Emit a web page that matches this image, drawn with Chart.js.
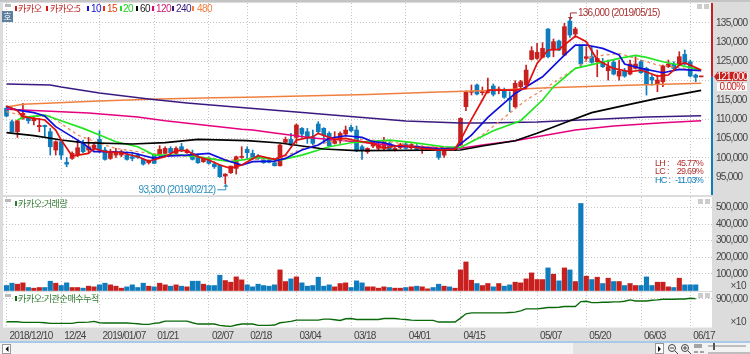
<!DOCTYPE html>
<html>
<head>
<meta charset="utf-8">
<script src="https://cdn.jsdelivr.net/npm/chart.js@4"></script>
<style>
html, body { margin: 0; padding: 0; }
#wrap { position: relative; width: 750px; height: 354px; overflow: hidden; background: #dcdcdc; }
canvas { position: absolute; left: 0; top: 0; }
.t { position: absolute; white-space: nowrap; font: 9px "Noto Sans CJK KR", sans-serif; line-height: 11px; letter-spacing: -0.4px; }
.n { font: 10px "Liberation Sans", sans-serif; line-height: 11px; letter-spacing: -0.5px; }
.m { position: absolute; width: 2px; height: 5px; }
.b { position: absolute; background: #b9b9b9; }
</style>
</head>
<body>
<div id="wrap">
  <canvas id="priceChart" width="750" height="354"></canvas>
  <canvas id="volumeChart" width="750" height="354"></canvas>
  <canvas id="flowChart" width="750" height="354"></canvas>

  <!-- top strip, scroll row -->
  <div class="b" style="left:0;top:0;width:750px;height:2px;background:#c4c4c4"></div>
  <div class="b" style="left:0;top:341px;width:750px;height:2px;background:#a9c9e8"></div>
  <div class="b" style="left:0;top:343px;width:750px;height:11px;background:#f3f3f3"></div>
  <div class="b" style="left:573px;top:343px;width:82px;height:11px;background:#e2e2e2"></div>
  <div class="b" style="left:2px;top:344px;width:9px;height:10px;background:#fff;border:1px solid #999;box-sizing:border-box"></div>
  <div class="b" style="left:655px;top:343px;width:9px;height:11px;background:#fff;border:1px solid #999;box-sizing:border-box"></div>
  <svg style="position:absolute;left:0;top:343px" width="750" height="11">
    <path d="M8.5 3 L5.5 6 L8.5 9 Z M658 3 L661 6 L658 9 Z" fill="#111"/>
    <circle cx="672" cy="5" r="3.5" fill="none" stroke="#444"/><path d="M675 8 L678 11 M670 5 H674" stroke="#444"/>
    <circle cx="685" cy="5" r="3.5" fill="none" stroke="#444"/><path d="M688 8 L691 11 M683 5 H687 M685 3 V7" stroke="#444"/>
    <path d="M695 1 V5 M697 1 V5 M699 1 V5 M701 1 V5 M694 9 H698 M700 9 H704" stroke="#555"/>
    <path d="M708 3 H746 M708 10 H750" stroke="#888"/><rect x="713" y="0" width="2" height="7" fill="#555"/>
  </svg>

  <!-- panel grabbers -->
  <div class="b" style="left:5px;top:4px;width:6px;height:3px"></div>
  <div class="b" style="left:5px;top:199px;width:6px;height:3px"></div>
  <div class="b" style="left:5px;top:294px;width:6px;height:3px"></div>
  <div class="b" style="left:697px;top:4px;width:5px;height:5px;background:#ccc"></div>
  <div class="b" style="left:704px;top:4px;width:5px;height:5px;background:#ccc"></div>
  <div class="b" style="left:698px;top:199px;width:5px;height:5px;background:#ccc"></div>
  <div class="b" style="left:705px;top:199px;width:5px;height:5px;background:#ccc"></div>
  <div class="b" style="left:698px;top:293px;width:5px;height:5px;background:#ccc"></div>
  <div class="b" style="left:705px;top:293px;width:5px;height:5px;background:#ccc"></div>
  <div class="t" style="left:2px;top:11px;width:11px;height:11px;background:#5f7f9f;color:#fff;text-align:center;letter-spacing:0">호</div>

  <!-- legend -->
  <div class="m" style="left:15px;top:6px;background:#c02020"></div><div class="t" style="left:18px;top:3px;color:#c02020">카카오</div>
  <div class="m" style="left:46px;top:6px;background:#e01010"></div><div class="t" style="left:50px;top:3px;color:#c02020">카카오:5</div>
  <div class="m" style="left:87px;top:6px;background:#1010dd"></div><div class="t n" style="left:91px;top:3px;color:#1010dd">10</div>
  <div class="m" style="left:103px;top:6px;background:#f03010"></div><div class="t n" style="left:107px;top:3px;color:#e04010">15</div>
  <div class="m" style="left:120px;top:6px;background:#20e020"></div><div class="t n" style="left:123px;top:3px;color:#20d020">20</div>
  <div class="m" style="left:136px;top:6px;background:#000"></div><div class="t n" style="left:140px;top:3px;color:#222">60</div>
  <div class="m" style="left:152px;top:6px;background:#e6007e"></div><div class="t n" style="left:156px;top:3px;color:#d0206e">120</div>
  <div class="m" style="left:172px;top:6px;background:#3a1a80"></div><div class="t n" style="left:176px;top:3px;color:#3a1a80">240</div>
  <div class="m" style="left:192px;top:6px;background:#f08040"></div><div class="t n" style="left:197px;top:3px;color:#f08040">480</div>

  <div class="m" style="left:15px;top:201px;background:#2f7a2f"></div><div class="t" style="left:18px;top:198px;color:#2f7a2f">카카오:거래량</div>
  <div class="m" style="left:15px;top:296px;background:#0a6a0a"></div><div class="t" style="left:18px;top:293px;color:#2f7a2f">카카오:기관순매수누적</div>
  <div class="t n" style="right:4px;top:280px;color:#444">×10</div>
  <div class="t n" style="right:4px;top:316px;color:#444">×10</div>
</div>

<script>
// Candles, one row per 10 sessions
const opens = [
    112840,109380,106790,110250,110250,109640,108090,108430,106790,102040,
    104200,98840,99880,100740,103770,102040,102470,104800,102040,99880,
    100740,100740,100740,100310,100740,99620,98760,100740,100740,101180,
    102470,101180,102900,101350,101180,100310,99020,99620,98410,98150,
    95300,96160,97290,100140,102210,101180,100490,99450,99450,98760,
    97980,104030,104800,105320,107660,106790,105490,108780,107660,106360,
    103770,104800,106190,107920,107220,102900,101610,103080,102470,102470,
    103770,102040,102640,103600,102640,103080,102300,102040,102640,102040,
    100740,102470,102040,103340,113270,117000,118890,116900,116950,118630,
    117410,117410,115440,113270,118440,118870,125520,125780,126040,133390,
    127950,130280,126650,135460,132090,129070,125780,126220,124920,124920,
    122590,124750,121200,122590,121730,123190,124920,123190,120860,119130,
    119740,123625,124320,124060,126820,124920,121470,121000
];
const closes = [
    110850,106790,109640,111540,109640,110250,108430,108090,102900,104200,
    100740,98410,101180,102640,101610,102900,103340,102040,99620,101610,
    101610,101610,99620,99880,100140,98410,99270,98590,102210,102470,
    101350,102470,101870,102040,99620,98760,99880,98580,97720,95130,
    95820,97890,100310,100310,101350,100140,99880,98760,98840,97980,
    103340,104800,103340,108520,106190,105060,103770,106790,105930,103160,
    104800,106360,107220,107050,102040,102040,102470,103940,103340,104200,
    102210,102470,103340,102470,103510,102210,102900,102640,102040,100140,
    102040,102040,102640,110250,117150,117080,116560,117000,117100,116480,
    117850,115700,115000,119330,119740,122760,127770,127340,128380,126220,
    130100,127950,133990,131830,133390,124320,126220,124750,125780,123625,
    123625,121730,122500,121210,124320,124320,122070,119130,120170,120170,
    123800,124320,123190,126220,124320,121210,120860,121000
];
const highs = [
    113440,109820,109820,114140,110500,110680,110250,108520,107660,104460,
    104630,100140,101610,104630,104630,105320,103770,107050,102730,102210,
    102470,102040,101610,101180,101180,99880,99500,100900,103170,102900,
    102900,102900,103770,102300,102040,100740,100140,100310,99020,98320,
    95900,97900,100490,102900,102900,102040,100900,100000,99900,99190,
    103500,105400,106360,108780,107830,107660,107220,109380,107830,106790,
    106790,106790,108260,108520,108260,103340,102640,104200,103770,105320,
    104200,102900,103800,104000,103700,103500,103100,102900,102900,102470,
    102200,102800,102900,110400,117410,118890,119150,118370,120700,119150,
    118400,118110,117150,120000,120100,124060,128810,129670,129850,133500,
    130800,130500,134860,136000,133820,129240,128810,128810,127950,125780,
    125350,125400,125350,123200,125350,126220,125350,123500,121470,121470,
    124060,125350,124920,127510,127950,125350,121730,121000
];
const lows = [
    110680,106700,105320,110000,108950,108520,106790,105500,100740,100740,
    99620,97720,99620,100310,101350,101180,102040,101350,99450,99620,
    100140,100310,99450,99270,99880,98150,98410,98500,100310,101000,
    100740,100900,101610,101180,99450,98580,98840,98410,97290,94960,
    93300,95990,95820,99880,99880,99620,99600,98600,98700,97890,
    97890,103700,103080,103770,105320,103770,103340,106360,103770,102900,
    103600,103770,105930,106790,101610,99620,101180,102640,102040,102040,
    101870,101800,102400,102300,102300,101950,101180,101900,101900,99620,
    100140,101900,101900,103200,112230,116300,116300,116300,116800,116040,
    116600,115440,111970,113000,118200,118800,125350,125500,125900,125900,
    126200,127800,126500,131230,131230,123625,125000,124500,121030,123400,
    120170,121500,120170,120900,121500,123000,121900,116280,118870,117150,
    118440,123400,122760,123900,124100,121000,119740,121000
];
const volumes = [
    30000,44000,38000,46000,18000,14000,18000,18000,56000,44000,
    30000,46000,18000,18000,14000,26000,22000,34000,44000,34000,
    26000,14000,22000,34000,18000,44000,26000,22000,44000,34000,
    26000,34000,26000,22000,56000,56000,38000,30000,30000,92000,
    60000,50000,82000,64000,34000,22000,38000,30000,26000,34000,
    124000,54000,70000,82000,46000,26000,30000,80000,26000,34000,
    22000,42000,46000,18000,58000,46000,22000,22000,14000,22000,
    18000,14000,14000,18000,22000,26000,22000,10000,18000,38000,
    26000,22000,14000,124000,172000,62000,42000,30000,42000,22000,
    42000,26000,34000,50000,46000,70000,106000,66000,66000,136000,
    98000,58000,136000,124000,54000,524000,86000,66000,80000,42000,
    74000,54000,54000,30000,42000,30000,30000,82000,30000,50000,
    50000,22000,18000,74000,34000,34000,34000
];
const flowValues = [
    181000,181000,181000,160000,160000,160000,160000,150000,129000,129000,
    129000,129000,129000,160000,160000,171000,192000,150000,140000,140000,
    140000,140000,140000,129000,119000,98000,98000,129000,150000,202000,
    202000,202000,202000,202000,150000,108000,108000,108000,108000,67000,
    46000,35000,77000,108000,108000,108000,67000,67000,67000,77000,
    150000,171000,192000,233000,233000,233000,233000,233000,265000,265000,
    244000,223000,275000,285000,254000,254000,254000,254000,254000,285000,
    285000,285000,265000,254000,233000,223000,223000,223000,223000,171000,
    171000,171000,171000,296000,431000,462000,462000,462000,462000,462000,
    462000,462000,473000,483000,525000,587000,587000,587000,608000,629000,
    629000,640000,660000,660000,660000,817000,827000,785000,785000,796000,
    796000,806000,806000,827000,869000,837000,837000,837000,858000,869000,
    890000,890000,890000,900000,900000,921000,910000
];

// Moving averages as readings: session index + value
const ma5At = [0,2,3,7,9,10,12,15,16,18,21,24,26,29,31,33,35,37,39,41,43,46,49,51,53,56,57,60,62,64,67,69,72,76,79,82,83,85,87,88,93,95,97,99,101,104,106,108,111,114,116,119,121,123,124,127];
const ma5 = [113450,112240,110680,109820,107220,104630,100490,101180,102470,101610,101350,100310,99190,100310,101870,101870,100310,99450,98150,97290,98150,100570,99620,100740,104630,105490,106360,104800,105060,104460,103770,102470,103340,102470,102040,102300,104630,110000,115000,117580,117580,118010,124490,127950,128120,131570,130100,125350,123190,122330,122760,121210,121470,124060,124660,122760];
const ma10At = [0,2,5,7,9,11,14,16,18,23,27,29,33,37,40,43,45,49,51,54,57,59,62,65,67,69,71,75,79,82,85,88,93,98,102,104,106,109,112,113,116,120,123,127];
const ma10 = [113270,112400,111720,110850,108090,106360,103770,101610,101610,101350,99880,100480,100740,101180,99450,98150,99020,99190,99880,102040,103340,105060,105750,105320,104200,103940,103160,102900,102300,102470,105930,110490,116710,121030,126650,129240,129240,128380,126650,124320,123190,122070,122930,122590];
const ma15At = [0,4,8,13,17,20,24,29,35,41,46,50,55,60,65,70,75,80,83,87,95,98,104,107,112,115,119,127];
const ma15 = [111980,110680,110850,105930,103770,102470,101610,100740,100310,99450,99620,99880,102900,104460,104800,104200,103080,102650,102650,105940,115000,117580,123190,126220,127080,125780,124060,122760];
const ma20At = [2,3,7,10,14,17,20,24,27,32,35,38,41,46,50,54,59,63,70,74,80,83,85,89,94,98,100,104,108,112,115,117,120,123,127];
const ma20 = [109820,110500,111110,109640,107660,105930,104200,102900,100740,100740,100310,99620,99020,100140,99450,100740,102900,103940,104630,104030,102900,102730,104200,107050,109640,115000,118440,123200,124500,125780,126560,126040,124900,124060,122760];
const ma60At = [0,5,10,14,23,29,35,44,50,58,64,83,87,93,97,103,107,112,119,127];
const ma60 = [106540,105760,104640,103950,103610,103950,104830,104460,103870,102310,101870,102050,103090,104460,106380,109640,111720,113270,115440,117520];
const ma120At = [0,15,24,29,43,45,49,56,64,73,83,87,93,97,104,111,120,127];
const ma120 = [112600,111640,110600,109640,107420,107240,106460,105160,104200,102910,102490,103350,104460,105500,107240,108270,109130,109640];
const ma240At = [0,8,10,17,23,26,33,44,53,64,73,83,87,97,105,117,127];
const ma240 = [119150,118900,118370,116820,115780,115260,114230,112930,111900,110600,109570,109050,109050,109300,109830,110600,110940];
const ma480At = [0,3,17,26,38,44,54,66,79,87,99,112,127];
const ma480 = [113190,113890,114750,115190,115600,115700,116040,116430,117080,117410,118190,118760,119330];

// Axis labels
const dateAt = [0,10,17,27,37,44,53,63,73,83,97,106,116,125];
const dateLabels = ['2018/12/10','12/24','2019/01/07','01/21','02/07','02/18','03/04','03/18','04/01','04/15','05/07','05/20','06/03','06/17'];
const priceTicks = [95000,100000,105000,110000,115000,120000,125000,130000,135000];
const volumeTicks = [100000,200000,300000,400000,500000];
const flowTicks = [900000];

const RED = '#c8201f';
const BLUE = '#0f7dbd';
const FONT = '"Liberation Sans", sans-serif';
const gridColor = '#c4c4c4';

const pairs = (at, vals) => at.map((x, k) => ({ x, y: vals[k] }));
const isUp = (i) => closes[i] >= opens[i];

const lineSet = (label, at, vals, color, width, dash) => ({
    type: 'line',
    label,
    data: pairs(at, vals),
    borderColor: color,
    borderWidth: width,
    borderDash: dash || [],
    pointRadius: 0,
    tension: 0
});

// white plot background behind each panel, and the tighter axis text
const plotBack = {
    id: 'plotBack',
    beforeDraw(chart) {
        const a = chart.chartArea;
        chart.ctx.fillStyle = '#fff';
        chart.ctx.fillRect(a.left, a.top, a.right - a.left, a.bottom - a.top);
        chart.ctx.letterSpacing = '-0.7px';
    }
};

const axisOptions = (paddingTop, paddingBottom, ticks, min, max, showDates) => ({
    responsive: false,
    animation: false,
    events: [],
    layout: { padding: { left: 3, right: 0, top: paddingTop, bottom: paddingBottom } },
    plugins: { legend: { display: false }, tooltip: { enabled: false } },
    scales: {
        x: {
            type: 'linear',
            min: -0.64,
            max: 128.98,
            offset: false,
            border: { display: false, dash: [1, 2] },
            grid: { offset: false, color: gridColor, drawTicks: false },
            afterBuildTicks: (s) => { s.ticks = dateAt.map((value) => ({ value })); },
            afterFit: (s) => { s.height = showDates ? 14 : 0; s.paddingLeft = 0; s.paddingRight = 0; },
            ticks: {
                display: showDates,
                autoSkip: false,
                maxRotation: 0,
                align: 'start',
                labelOffset: 3,
                padding: 3,
                color: '#444',
                font: { family: FONT, size: 10 },
                callback: (v) => dateLabels[dateAt.indexOf(v)]
            }
        },
        y: {
            position: 'right',
            min,
            max,
            border: { display: false, dash: [1, 2] },
            grid: { color: gridColor, drawTicks: false },
            afterBuildTicks: (s) => { s.ticks = ticks.map((value) => ({ value })); },
            afterFit: (s) => { s.width = 38; s.paddingTop = 0; s.paddingBottom = 0; },
            ticks: {
                padding: 4,
                color: '#444',
                font: { family: FONT, size: 10 },
                // the last price tag sits where 120,000 would be
                callback: (v) => (v === 120000 ? '' : v.toLocaleString('en-US'))
            }
        }
    }
});

// high / low notes, price tag and the ratios box
const priceNotes = {
    id: 'priceNotes',
    afterDraw(chart) {
        const { ctx, chartArea } = chart;
        const sx = chart.scales.x, sy = chart.scales.y;
        const last = closes[closes.length - 1];
        const lastY = sy.getPixelForValue(last);

        // axis line, red above the last price and blue below
        ctx.fillStyle = RED;
        ctx.fillRect(711, chartArea.top, 2, lastY - chartArea.top);
        ctx.fillStyle = BLUE;
        ctx.fillRect(711, lastY, 2, chartArea.bottom - lastY);

        // high
        const hi = Math.max(...highs), hiIdx = highs.indexOf(hi);
        let x = sx.getPixelForValue(hiIdx), y = sy.getPixelForValue(hi);
        ctx.strokeStyle = ctx.fillStyle = '#a83232';
        ctx.lineWidth = 1;
        ctx.beginPath(); ctx.moveTo(x + 0.5, y - 1); ctx.lineTo(x + 0.5, y - 6); ctx.lineTo(x + 7, y - 6); ctx.stroke();
        ctx.beginPath(); ctx.moveTo(x - 2, y - 2); ctx.lineTo(x + 3, y - 2); ctx.lineTo(x + 0.5, y + 1); ctx.fill();
        ctx.font = '10px ' + FONT;
        ctx.textBaseline = 'middle';
        ctx.textAlign = 'left';
        ctx.fillText(hi.toLocaleString('en-US') + ' (2019/05/15)', x + 8, y - 6);

        // low
        const lo = Math.min(...lows), loIdx = lows.indexOf(lo);
        x = sx.getPixelForValue(loIdx); y = sy.getPixelForValue(lo);
        ctx.strokeStyle = ctx.fillStyle = '#2b8fc0';
        ctx.beginPath(); ctx.moveTo(x + 0.5, y + 1); ctx.lineTo(x + 0.5, y + 6); ctx.lineTo(x - 8, y + 6); ctx.stroke();
        ctx.beginPath(); ctx.moveTo(x - 2, y + 3); ctx.lineTo(x + 3, y + 3); ctx.lineTo(x + 0.5, y); ctx.fill();
        ctx.textAlign = 'right';
        ctx.fillText(lo.toLocaleString('en-US') + ' (2019/02/12)', x - 10, y + 6);

        // last price tag
        ctx.fillStyle = RED;
        ctx.beginPath(); ctx.moveTo(714, lastY); ctx.lineTo(717, lastY - 4); ctx.lineTo(717, lastY + 4); ctx.fill();
        ctx.fillRect(717, lastY - 5, 30, 9);
        ctx.fillStyle = '#fff';
        ctx.fillRect(717, lastY + 6, 30, 8);
        ctx.textAlign = 'center';
        ctx.fillText(last.toLocaleString('en-US'), 732, lastY);
        ctx.fillStyle = RED;
        ctx.fillText('0.00%', 732, lastY + 10);

        // ratios
        const rows = [['LH :', '45.77%', '#b03030', 164], ['LC :', '29.69%', '#b03030', 172], ['HC :', '-11.03%', BLUE, 181]];
        ctx.font = '9px ' + FONT;
        rows.forEach(([name, val, color, py]) => {
            ctx.fillStyle = color;
            ctx.textAlign = 'left';
            ctx.fillText(name, 655, py);
            ctx.textAlign = 'right';
            ctx.fillText(val, 703, py);
        });
    }
};

const initCharts = () => {
    const barColor = closes.map((c, i) => (isUp(i) ? RED : BLUE));

    new Chart(document.getElementById('priceChart'), {
        type: 'bar',
        data: {
            datasets: [
                lineSet('5', ma5At, ma5, '#e01010', 1.7),
                lineSet('10', ma10At, ma10, '#1010dd', 1.7),
                lineSet('60', ma60At, ma60, '#000', 1.7),
                lineSet('20', ma20At, ma20, '#22e622', 1.7),
                lineSet('15', ma15At, ma15, '#f08a60', 1.3, [3, 3]),
                lineSet('240', ma240At, ma240, '#3a1a80', 1.5),
                lineSet('120', ma120At, ma120, '#e6007e', 1.5),
                lineSet('480', ma480At, ma480, '#f08040', 1.5),
                {
                    label: '카카오',
                    data: opens.map((o, i) => ({ x: i, y: [o, closes[i]] })),
                    backgroundColor: barColor,
                    barThickness: 4,
                    minBarLength: 1,
                    grouped: false
                },
                {
                    label: 'wick',
                    data: highs.map((h, i) => ({ x: i, y: [lows[i], h] })),
                    backgroundColor: barColor,
                    barThickness: 1,
                    grouped: false
                }
            ]
        },
        options: axisOptions(3, 159, priceTicks, 90400, 140128, false),
        plugins: [plotBack, priceNotes]
    });

    new Chart(document.getElementById('volumeChart'), {
        type: 'bar',
        data: {
            datasets: [{
                label: '거래량',
                data: volumes.map((v, i) => ({ x: i, y: v })),
                backgroundColor: barColor,
                barThickness: 4.5
            }]
        },
        options: axisOptions(197, 63, volumeTicks, -3000, 563000, false),
        plugins: [plotBack]
    });

    new Chart(document.getElementById('flowChart'), {
        type: 'line',
        data: {
            datasets: [{
                label: '기관순매수누적',
                data: flowValues.map((v, i) => ({ x: i, y: v })),
                borderColor: '#0a6a0a',
                borderWidth: 1.4,
                pointRadius: 0,
                tension: 0
            }]
        },
        options: axisOptions(292, 12.5, flowTicks, 0, 1118750, true),
        plugins: [plotBack]
    });
};

initCharts();
</script>
</body>
</html>
